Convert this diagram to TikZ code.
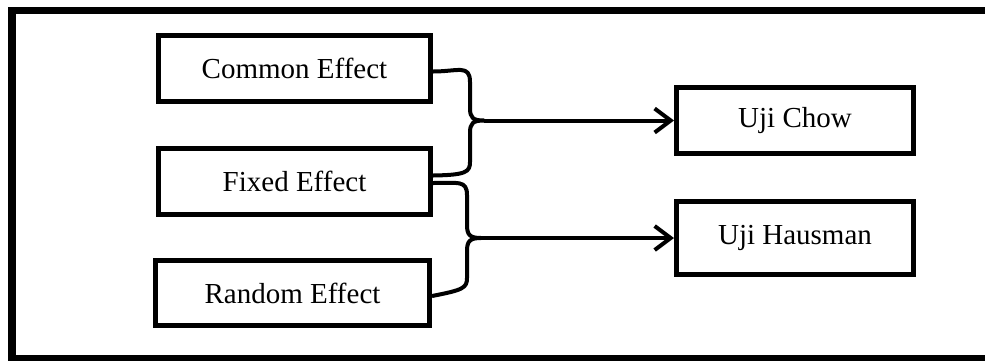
\documentclass[tikz,border=0pt]{standalone}
\usepackage{fontspec}
\setmainfont{Liberation Serif}
\usetikzlibrary{arrows.meta}
\begin{document}
\begin{tikzpicture}[x=1pt,y=-1pt,
  box/.style={draw=black,line width=5pt,minimum width=272pt,minimum height=66pt,inner sep=0pt,
    font=\fontsize{29}{34}\selectfont},
  bracel/.style={draw=black,line width=4pt,line join=round},
  arr/.style={draw=black,line width=4pt,-{Straight Barb[length=16pt,width=24pt,line width=4pt]}}]
\useasboundingbox (0,0) rectangle (985,360);
\clip (0,0) rectangle (985,360);
\draw[line width=7.5pt] (12,10.5) rectangle (1000,358.5);
\node[box] (common) at (294.5,68.5) {Common Effect};
\node[box] (fixed) at (294.5,181.5) {Fixed Effect};
\node[box,minimum width=274pt,minimum height=65pt] (random) at (292.5,293) {Random Effect};
\node[box,minimum width=237pt] (chow) at (795,120.5) {Uji Chow};
\node[box,minimum width=237pt,minimum height=73pt] (haus) at (795,238) {Uji Hausman};
\coordinate (t1) at (484,120.5);
\coordinate (t2) at (481,238);
\draw[bracel] ([yshift=-3pt]common.east) .. controls +(25,0) and (470,64) .. (470,82)
  -- (470,108) .. controls (470,118) and (473,120.5) .. (t1)
  .. controls (473,120.5) and (470,123) .. (470,133)
  -- (470,162) .. controls (470,172) and (466,175) .. ([yshift=6pt]common.east |- fixed.east) ;
\draw[bracel] ([yshift=-1.5pt]fixed.east) .. controls +(25,0) and (467,180) .. (467,195)
  -- (467,225) .. controls (467,235) and (470,238) .. (t2)
  .. controls (470,238) and (467,241) .. (467,251)
  -- (467,278) .. controls (467,288) and (463,290) .. ([yshift=-3pt]random.east);
\draw[arr] (t1) -- (chow.west);
\draw[arr] (t2) -- (chow.west |- haus.west);
\end{tikzpicture}
\end{document}
